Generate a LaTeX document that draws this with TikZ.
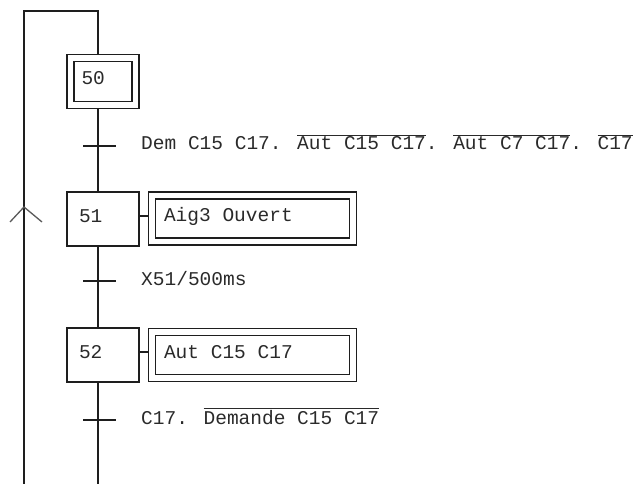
\documentclass[tikz,border=0pt]{standalone}
\usepackage{fontspec}
\usetikzlibrary{positioning}
\newfontfamily\grafmono{Liberation Mono}
\newcommand\grafont{\grafmono\fontsize{19.5}{22}\selectfont}
\newcommand\negsig[1]{$\overline{\hbox{#1}}$}
\definecolor{grLine}{HTML}{1E1E1E}
\definecolor{grText}{HTML}{2A2A2A}
\definecolor{grMark}{HTML}{5A5A5A}

\begin{document}
\begin{tikzpicture}[
      x=1pt,y=-1pt,
      link/.style={draw=grLine,line width=1.3pt},
      stepbox/.style={draw=grLine,line width=1.3pt,text=grText,font=\grafont,
                      minimum width=72pt,minimum height=54pt,text width=48pt,
                      inner xsep=12pt,text height=12pt,text depth=5pt,
                      execute at begin node={\spaceskip=0pt\xspaceskip=0pt\relax}},
      initstep/.style={stepbox,double,double distance=5.7pt,
                       minimum width=65pt,minimum height=47pt,text width=43pt,inner xsep=11pt},
      actionbox/.style={stepbox,double,double distance=5.7pt,
                        minimum width=201pt,minimum height=46pt,text width=177pt},
      cond/.style={text=grText,font=\grafont,inner sep=0pt,anchor=base west},
      chev/.style={draw=grMark,line width=1.3pt}
    ]
    \useasboundingbox (0,0) rectangle (643,484);

    % steps and their actions
    \node[initstep]  (s50) at (103,81.5)  {50};
    \node[stepbox]   (s51) at (103,219)   {51};
    \node[actionbox] (a51) at (252.5,218.5) {Aig3 Ouvert};
    \node[stepbox]   (s52) at (103,355)   {52};
    \node[actionbox] (a52) at (252.5,355) {Aut C15 C17};

    % spine and loop back
    \coordinate (top)     at (98,11);
    \coordinate (corner)  at (24,11);
    \coordinate (loopend) at (24,484);
    \coordinate (spinend) at (98,484);
    \coordinate (loopmark) at (24,207);

    \draw[link,shorten >=3.5pt] (loopend) -- (corner) -- (top) -- (top |- s50.north);
    \draw[link,shorten <=3.5pt] (top |- s50.south) -- (top |- s51.north);
    \draw[link] (top |- s51.south) -- (top |- s52.north);
    \draw[link] (top |- s52.south) -- (spinend);
    \draw[chev] (loopmark) ++(-14,15) -- (loopmark) -- ++(18,15);

    \draw[link,shorten >=3.5pt] ([yshift=3pt]s51.east) -- ([yshift=3pt]s51.east -| a51.west);
    \draw[link,shorten >=3.5pt] ([yshift=3pt]s52.east) -- ([yshift=3pt]s52.east -| a52.west);

    % transitions
    \coordinate (t1) at (98,146);
    \coordinate (t2) at (98,281);
    \coordinate (t3) at (98,420);
    \foreach \t in {t1,t2,t3}
      \draw[link] ([xshift=-15pt]\t) -- ([xshift=18pt]\t);

    \node[cond] (c1) at (141,150) {Dem C15 C17. \negsig{Aut C15 C17}. \negsig{Aut C7 C17}. \negsig{C17}};
    \node[cond] (c2) at (141,285) {X51/500ms};
    \node[cond] (c3) at (141,424) {C17. \negsig{Demande C15 C17}};
  \end{tikzpicture}
\end{document}
